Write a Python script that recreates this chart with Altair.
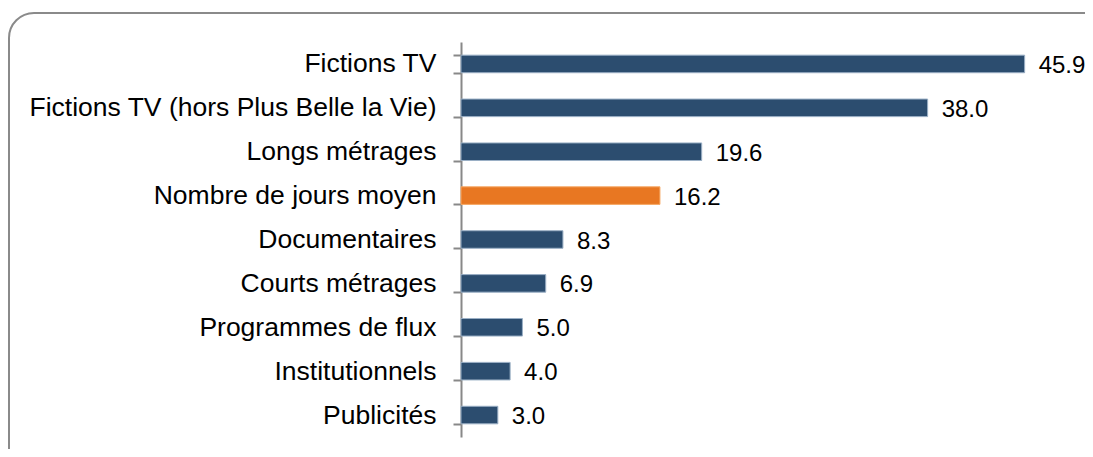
import altair as alt
import pandas as pd

categories = [
    "Fictions TV",
    "Fictions TV (hors Plus Belle la Vie)",
    "Longs métrages",
    "Nombre de jours moyen",
    "Documentaires",
    "Courts métrages",
    "Programmes de flux",
    "Institutionnels",
    "Publicités",
]
values = [45.9, 38.0, 19.6, 16.2, 8.3, 6.9, 5.0, 4.0, 3.0]
highlight = [False, False, False, True, False, False, False, False, False]

df = pd.DataFrame({"cat": categories, "val": values, "hl": highlight})
df["label"] = df["val"].map(lambda v: f"{v:.1f}")

W = 614
H = 395

y_enc = alt.Y(
    "cat:N",
    sort=categories,
    title=None,
    scale=alt.Scale(paddingInner=0.6, paddingOuter=0.3),
    axis=alt.Axis(
        labelFont="Liberation Sans",
        labelFontSize=26.5,
        labelColor="#000000",
        labelPadding=17,
        tickBand="extent",
        tickSize=8,
        tickColor="#888888",
        tickWidth=2,
        domainColor="#888888",
        domainWidth=2,
        labelLimit=700,
    ),
)
x_enc = alt.X("val:Q", scale=alt.Scale(domain=[0, 50]), axis=None)

bars = alt.Chart(df).mark_bar(strokeWidth=1).encode(
    y=y_enc,
    x=x_enc,
    color=alt.condition("datum.hl", alt.value("#E87722"), alt.value("#2C4D6F")),
    stroke=alt.condition("datum.hl", alt.value("#F6A864"), alt.value("#9AAFC5")),
)

texts = alt.Chart(df).mark_text(
    align="left", baseline="middle", dx=14, dy=2, font="Liberation Sans", fontSize=24, color="#000000"
).encode(y=y_enc, x=x_enc, text="label:N")

frame = alt.Chart(alt.Data(values=[{"a": 1}])).mark_rect(
    fill=None, stroke="#8A8A8A", strokeWidth=2, cornerRadius=25, clip=False
).encode(
    x=alt.value(-452),
    x2=alt.value(W + 60),
    y=alt.value(-29),
    y2=alt.value(H + 40),
)

chart = (
    alt.layer(frame, bars, texts)
    .properties(
        width=W,
        height=H,
        autosize=alt.AutoSizeParams(type="none"),
        padding={"left": 453, "top": 34, "right": 10, "bottom": 12},
    )
    .configure_view(stroke=None)
)

chart.save("out.html", embed_options={"renderer": "svg", "actions": False})
